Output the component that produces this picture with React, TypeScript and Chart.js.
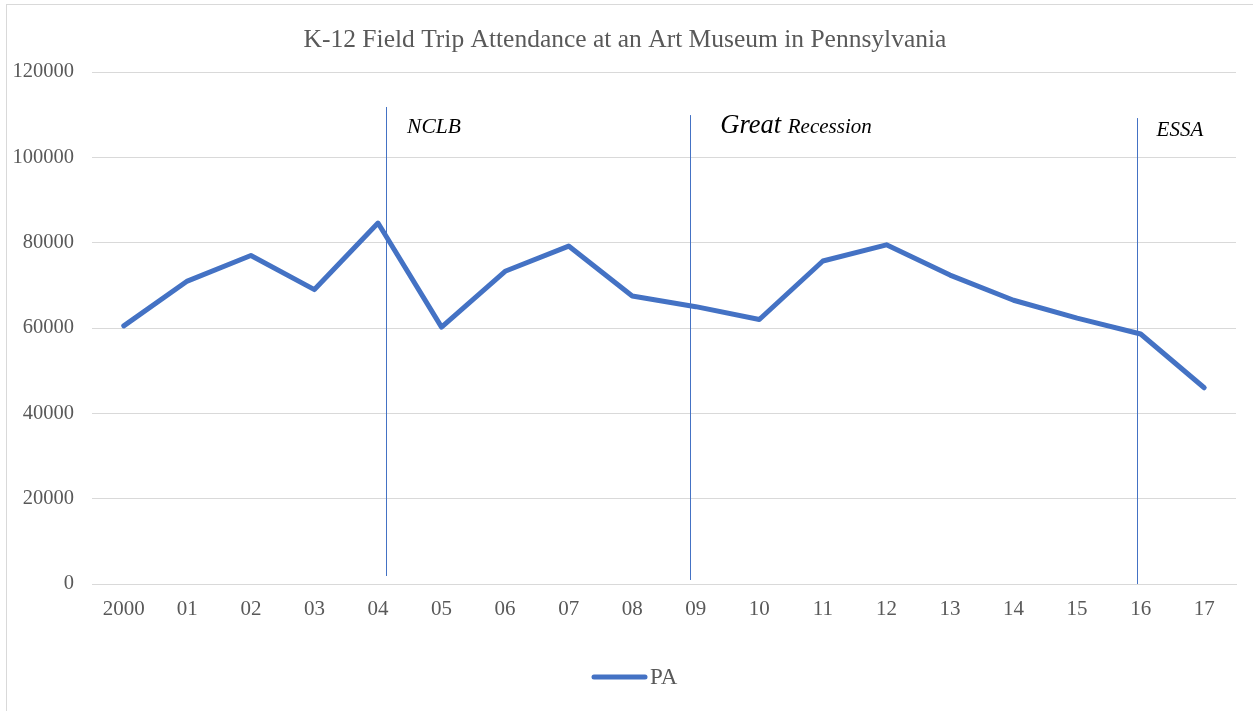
import React, { useEffect, useRef } from "react";
import { Chart, registerables } from "chart.js";

Chart.register(...registerables);

const years = ["2000", "01", "02", "03", "04", "05", "06", "07", "08", "09", "10", "11", "12", "13", "14", "15", "16", "17"];
const attendance = [60500, 71000, 77000, 69000, 84600, 60200, 73300, 79200, 67500, 65000, 62000, 75700, 79500, 72400, 66500, 62300, 58600, 46000];
const seriesLabel = "PA";
const chartTitle = "K-12 Field Trip Attendance at an Art Museum in Pennsylvania";

// event markers: x in category units, y range in data units
const eventX = [4.126, 8.913, 15.95];
const eventTop = [111800, 109900, 109200];
const eventBottom = [1875, 940, 0];
const eventTextX = [4.457, 9.386, 16.25];
const eventTextY = [105700, 105700, 105000];

const FONT = "'Liberation Serif', 'Times New Roman', serif";
const TEXT = "#595959";
const BLUE = "#4472C4";

const overlay = {
  id: "overlay",
  afterDatasetsDraw(chart: any) {
    const { ctx, scales } = chart;
    const x = scales.x;
    const y = scales.y;
    ctx.save();
    // event lines
    ctx.strokeStyle = BLUE;
    ctx.lineWidth = 1;
    for (let i = 0; i < eventX.length; i++) {
      const px = Math.round(x.getPixelForValue(eventX[i])) + 0.5;
      ctx.beginPath();
      ctx.moveTo(px, y.getPixelForValue(eventTop[i]));
      ctx.lineTo(px, y.getPixelForValue(eventBottom[i]));
      ctx.stroke();
    }
    // event labels
    ctx.fillStyle = "#000000";
    ctx.textBaseline = "alphabetic";
    ctx.textAlign = "left";
    ctx.font = `italic 21.5px ${FONT}`;
    ctx.fillText("NCLB", x.getPixelForValue(eventTextX[0]), y.getPixelForValue(eventTextY[0]));
    let gx = x.getPixelForValue(eventTextX[1]);
    const gy = y.getPixelForValue(eventTextY[1]);
    ctx.font = `italic 26.5px ${FONT}`;
    ctx.fillText("Great", gx, gy);
    gx += ctx.measureText("Great ").width;
    ctx.font = `italic 21px ${FONT}`;
    ctx.fillText("Recession", gx, gy);
    ctx.font = `italic 21px ${FONT}`;
    ctx.fillText("ESSA", x.getPixelForValue(eventTextX[2]), y.getPixelForValue(eventTextY[2]));

    // title
    ctx.fillStyle = TEXT;
    ctx.textAlign = "center";
    ctx.textBaseline = "middle";
    ctx.font = `25.5px ${FONT}`;
    ctx.fillText(chartTitle, 625, 40);

    // legend
    ctx.strokeStyle = BLUE;
    ctx.lineWidth = 5;
    ctx.lineCap = "round";
    ctx.beginPath();
    ctx.moveTo(594, 677);
    ctx.lineTo(645, 677);
    ctx.stroke();
    ctx.textAlign = "left";
    ctx.font = `23px ${FONT}`;
    ctx.fillText(chart.data.datasets[0].label, 650, 678);
    ctx.restore();
  },
};

export default function App() {
  const ref = useRef<HTMLCanvasElement>(null);
  useEffect(() => {
    const chart = new Chart(ref.current as HTMLCanvasElement, {
      type: "line",
      data: {
        labels: years,
        datasets: [
          {
            label: seriesLabel,
            data: attendance,
            borderColor: BLUE,
            backgroundColor: BLUE,
            borderWidth: 5,
            pointRadius: 0,
            tension: 0,
            borderJoinStyle: "round",
            borderCapStyle: "round",
          },
        ],
      },
      options: {
        animation: false,
        responsive: false,
        maintainAspectRatio: false,
        layout: { padding: { left: 0, right: 17, top: 72, bottom: 0 } },
        plugins: {
          legend: { display: false },
          title: { display: false },
          tooltip: { enabled: false },
        },
        scales: {
          x: {
            offset: true,
            grid: { display: false, drawTicks: false },
            border: { display: true, color: "#d9d9d9", width: 1 },
            ticks: { color: TEXT, font: { family: FONT, size: 21 }, padding: 13, maxRotation: 0, autoSkip: false },
            afterFit(s: any) {
              s.height = 127;
            },
          },
          y: {
            min: 0,
            max: 120000,
            grid: { color: "#d9d9d9", lineWidth: 1, drawTicks: false },
            border: { display: false },
            ticks: {
              stepSize: 20000,
              color: TEXT,
              font: { family: FONT, size: 20.5 },
              padding: 18,
              callback: (v: any) => String(v),
            },
            afterFit(s: any) {
              s.width = 92;
            },
          },
        },
      },
      plugins: [overlay],
    });
    return () => chart.destroy();
  }, []);
  return (
    <div style={{ position: "fixed", left: 0, top: 0, width: 1253, height: 711, overflow: "hidden", background: "#fff" }}>
      <div style={{ position: "absolute", left: 6, top: 4, width: 1300, height: 800, border: "1px solid #d9d9d9" }} />
      <canvas ref={ref} width={1253} height={711} style={{ position: "absolute", left: 0, top: 0 }} />
    </div>
  );
}
